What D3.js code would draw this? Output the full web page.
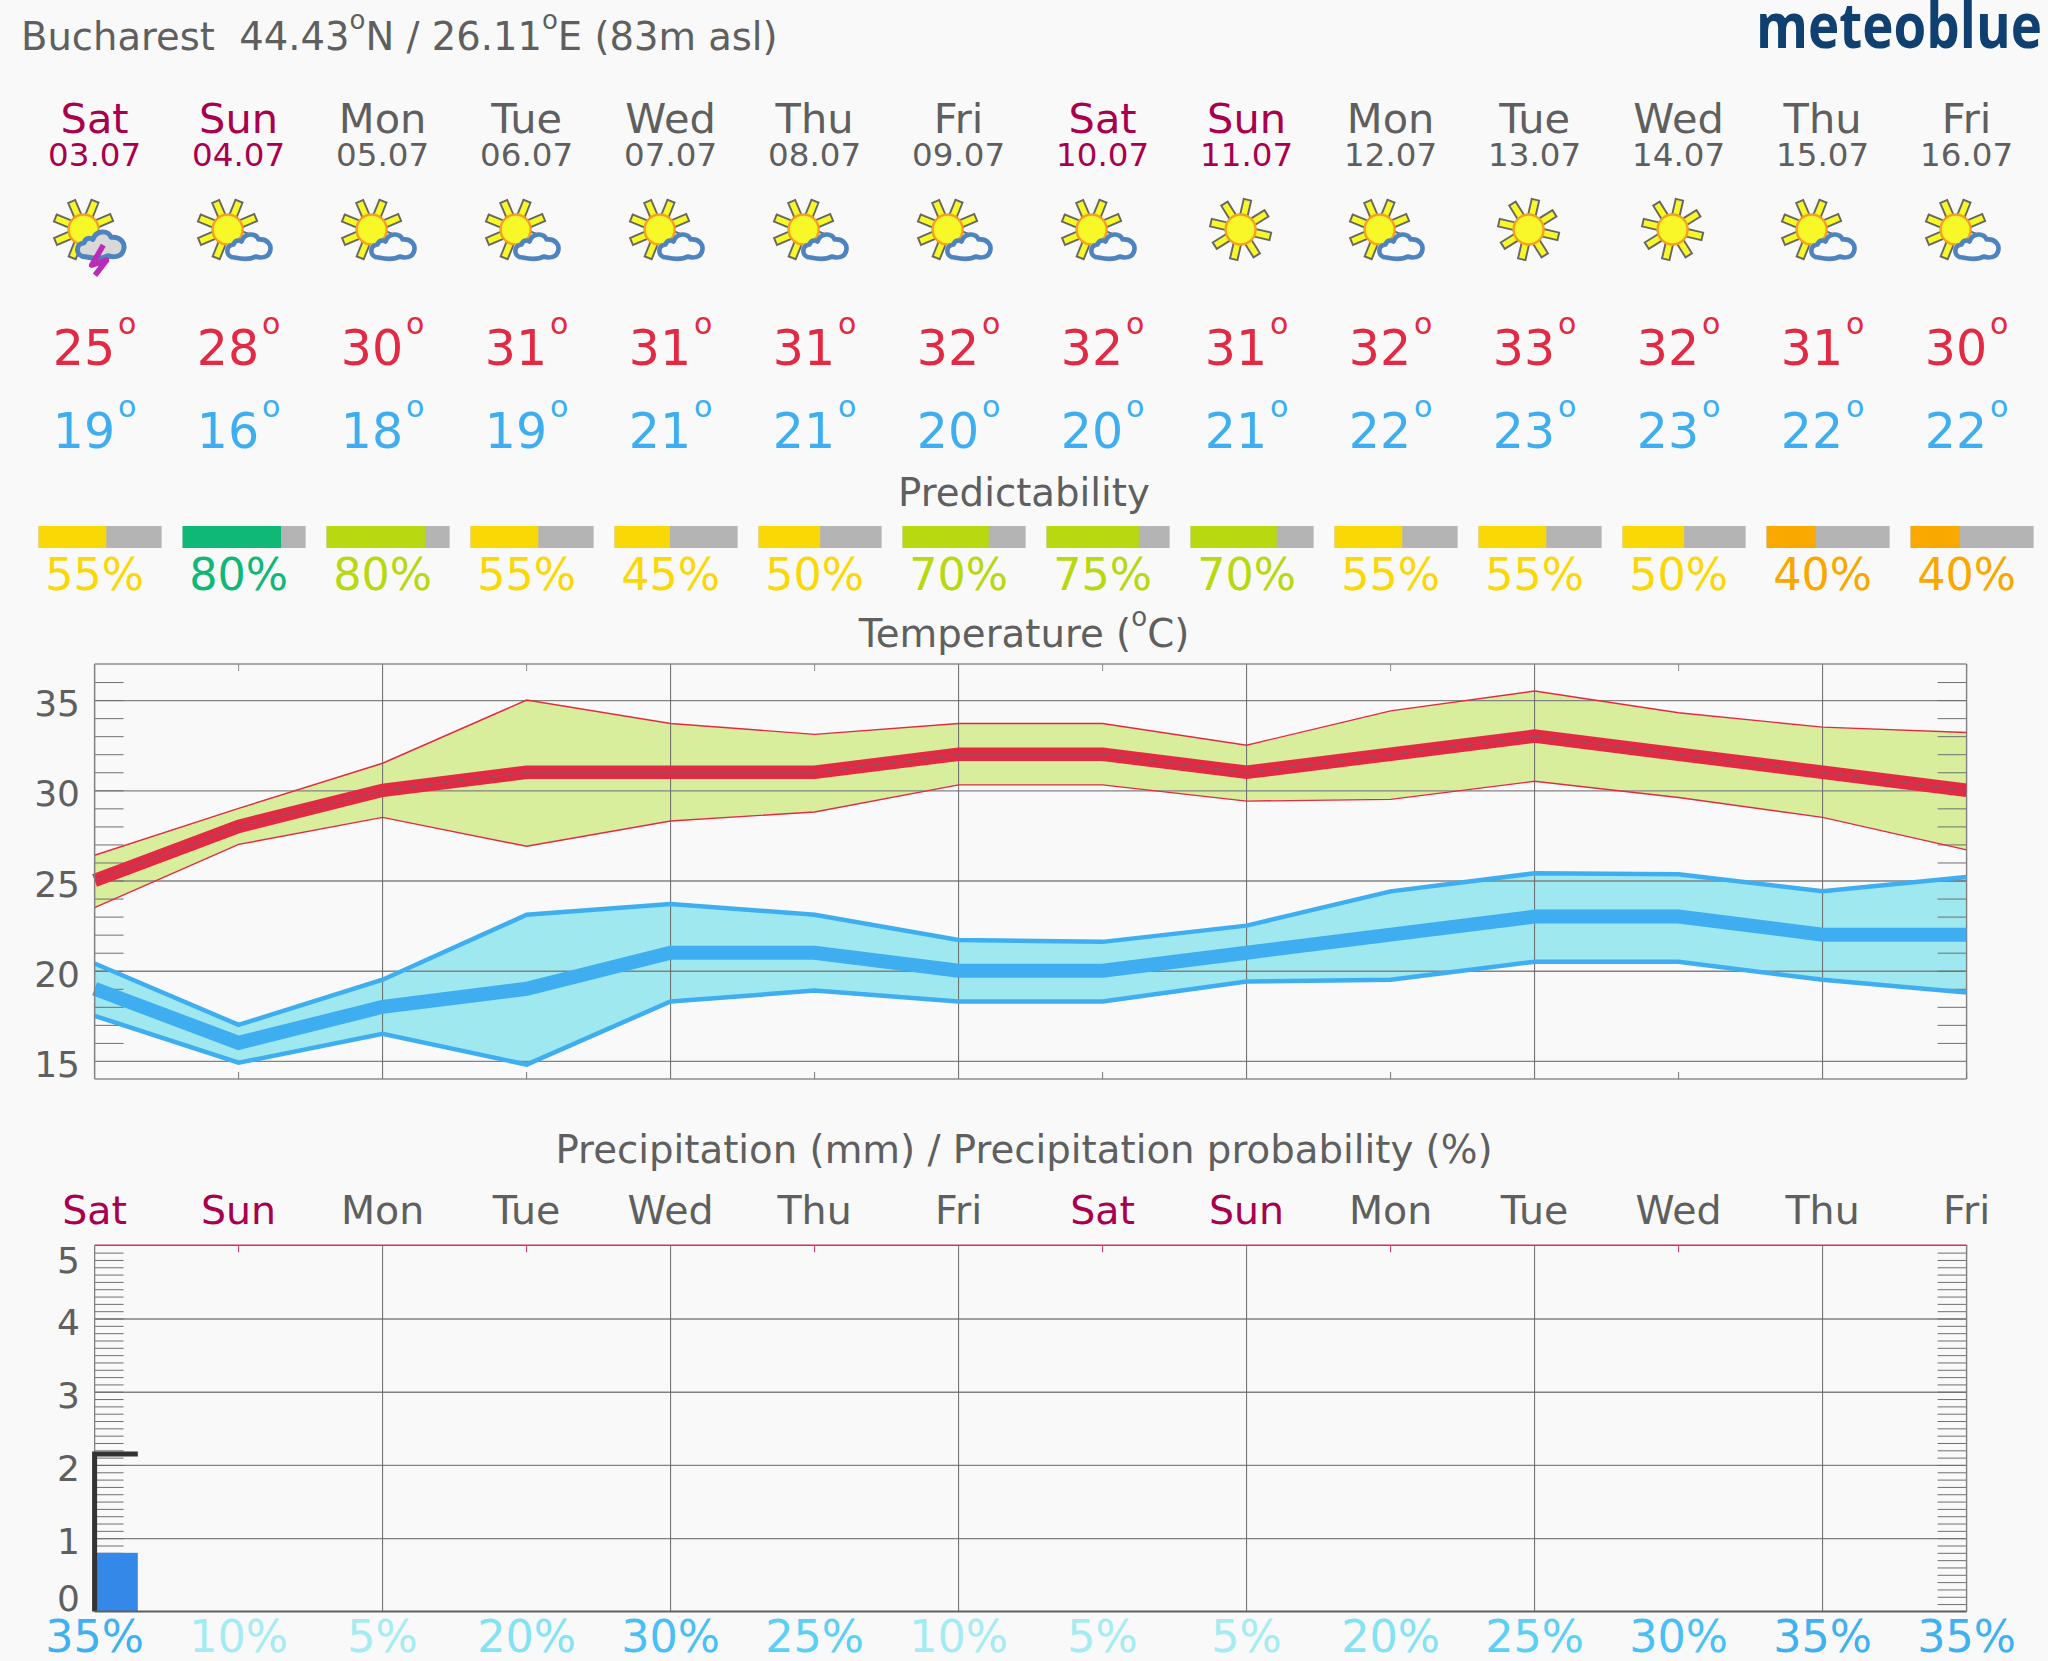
<!DOCTYPE html>
<html>
<head>
<meta charset="utf-8">
<title>meteoblue Bucharest</title>
<script src="https://cdnjs.cloudflare.com/ajax/libs/d3/7.8.5/d3.min.js"></script>
<style>
  html, body { margin: 0; padding: 0; background: #f9f9f9; }
  svg { display: block; }
  text { font-family: "DejaVu Sans", sans-serif; white-space: pre; }
</style>
</head>
<body>
<div id="chart"></div>
<script>
const days = ['Sat','Sun','Mon','Tue','Wed','Thu','Fri','Sat','Sun','Mon','Tue','Wed','Thu','Fri'];
const dates = ['03.07','04.07','05.07','06.07','07.07','08.07','09.07','10.07','11.07','12.07','13.07','14.07','15.07','16.07'];
const weekend = [1,1,0,0,0,0,0,1,1,0,0,0,0,0];
const icons = ['storm','pc','pc','pc','pc','pc','pc','pc','sun','pc','sun','sun','pc','pc'];

const tempMax = [25,28,30,31,31,31,32,32,31,32,33,32,31,30];
const tempMin = [19,16,18,19,21,21,20,20,21,22,23,23,22,22];
const maxUpper = [26.4,29,31.5,35,33.7,33.1,33.7,33.7,32.5,34.4,35.5,34.3,33.5,33.2];
const maxLower = [23.5,27,28.5,26.9,28.3,28.8,30.3,30.3,29.4,29.5,30.5,29.6,28.5,26.7];
const minUpper = [20.4,17,19.5,23.1,23.7,23.1,21.7,21.6,22.5,24.4,25.4,25.35,24.4,25.2];
const minLower = [17.5,14.9,16.5,14.8,18.3,18.9,18.3,18.3,19.4,19.5,20.5,20.5,19.5,18.8];

const predictability = [55,80,80,55,45,50,70,75,70,55,55,50,40,40];
const predictColors = ['#f9d806','#10b878','#b8d810','#f9d806','#f9d806','#f9d806','#b8d810','#b8d810','#b8d810','#f9d806','#f9d806','#f9d806','#f9a800','#f9a800'];

const precip = [0.8,0,0,0,0,0,0,0,0,0,0,0,0,0];
const precipHigh = [2.15,0,0,0,0,0,0,0,0,0,0,0,0,0];
const precipProb = [35,10,5,20,30,25,10,5,5,20,25,30,35,35];
const probColors = {5:'#a5ecf2',10:'#a5ecf2',20:'#84e3f2',25:'#5ccff5',30:'#48c0f5',35:'#3fb0f0'};

const tempTicks = [15,20,25,30,35];
const tempMinor = d3.range(16,37);
const precipTicks = [0,1,2,3,4,5];
const precipMinor = d3.range(1,50).map(d => d / 10);

const gray = '#5f5f5f';
const crimson = '#a8004f';
const red = '#e22a44';
const blue = '#3eaef0';

const svg = d3.select('#chart').append('svg')
  .attr('width', 2048).attr('height', 1661)
  .attr('viewBox', '0 0 2048 1661');

const idx = days.map((d, i) => i);
const x = d3.scalePoint().domain(idx).range([94.6, 1966.6]);
const yT = d3.scaleLinear().domain([14, 37]).range([1079, 664]);
const yP = d3.scaleLinear().domain([0, 5]).range([1611.4, 1245.3]);
const dayColor = i => weekend[i] ? crimson : gray;

// cabecera
const head = svg.append('text').attr('x', 21).attr('y', 50).attr('font-size', 38.5).attr('fill', gray);
head.append('tspan').text('Bucharest  44.43');
head.append('tspan').attr('font-size', 26).attr('dy', -21).text('o');
head.append('tspan').attr('dy', 21).text('N / 26.11');
head.append('tspan').attr('font-size', 26).attr('dy', -21).text('o');
head.append('tspan').attr('dy', 21).text('E (83m asl)');

svg.append('text').attr('x', 1756).attr('y', 47.7)
  .attr('font-size', 62).attr('fill', '#0f4070')
  .attr('textLength', 286).attr('lengthAdjust', 'spacingAndGlyphs')
  .style('font-family', '"Open Sans"').style('font-weight', 700)
  .text('meteoblue');

// dias
svg.selectAll('text.day').data(idx).enter().append('text')
  .attr('class', 'day').attr('x', x).attr('y', 132.7)
  .attr('text-anchor', 'middle').attr('font-size', 41.5)
  .attr('fill', dayColor).text(i => days[i]);

svg.selectAll('text.date').data(idx).enter().append('text')
  .attr('class', 'date').attr('x', x).attr('y', 165.7)
  .attr('text-anchor', 'middle').attr('font-size', 32.5)
  .attr('fill', dayColor).text(i => dates[i]);

// iconos
const cloudPath = 'M-4,28C-13,28-14,16-5,15C-4,11 0,10 3,12C6,3 17,3 20,10C29,9 34,16 31,23C29,28 22,29 17,27C12,30 5,30-4,28Z';
function drawSun(g, cx, offset) {
  const sun = g.append('g').attr('transform', `translate(${cx},0)`);
  d3.range(8).forEach(k => {
    sun.append('rect').attr('x', 14).attr('y', -3.8).attr('width', 16.5).attr('height', 7.6)
      .attr('fill', '#f8f828').attr('stroke', '#666').attr('stroke-width', 1.9)
      .attr('transform', `rotate(${offset + k * 45})`);
  });
  sun.append('circle').attr('r', 15).attr('fill', '#f8f828')
    .attr('stroke', '#f5a020').attr('stroke-width', 2.4);
}
svg.selectAll('g.icon').data(idx).enter().append('g')
  .attr('class', 'icon')
  .attr('transform', i => `translate(${x(i)},229.5)`)
  .each(function(i) {
    const g = d3.select(this);
    if (icons[i] === 'sun') {
      drawSun(g, -6, 13);
    } else {
      drawSun(g, -11, 22);
      const cloud = g.append('path').attr('d', cloudPath).attr('stroke', '#4d84c0')
        .attr('stroke-width', 4.6).attr('stroke-linejoin', 'round');
      if (icons[i] === 'storm') {
        cloud.attr('fill', '#d8d8d8').attr('transform', 'translate(-5,-3) scale(1.08)');
        g.append('path').attr('d', d3.line()([[8.7,15.7],[-2.9,35.7],[12,30.7],[0.4,45.7]]))
          .attr('fill', 'none').attr('stroke', '#b82cb8').attr('stroke-width', 5.5)
          .attr('stroke-linejoin', 'round');
      } else {
        cloud.attr('fill', '#f9f9f9');
      }
    }
  });

// temperaturas en texto
function degLabels(values, cls, baseline, color) {
  svg.selectAll('text.' + cls).data(values).enter().append('text')
    .attr('class', cls).attr('x', (d, i) => x(i)).attr('y', baseline)
    .attr('text-anchor', 'middle').attr('font-size', 49).attr('fill', color)
    .each(function(d) {
      const t = d3.select(this);
      t.append('tspan').text(d);
      t.append('tspan').attr('dx', 3).attr('dy', -31).attr('font-size', 30).text('o');
    });
}
degLabels(tempMax, 'tmax', 365, red);
degLabels(tempMin, 'tmin', 448, blue);

// predictability
function title(txt, y) {
  return svg.append('text').attr('x', 1024).attr('y', y)
    .attr('text-anchor', 'middle').attr('font-size', 38.7).attr('fill', gray).text(txt);
}
title('Predictability', 506);

const barW = d3.scaleLinear().domain([0, 100]).range([0, 123]);
svg.selectAll('rect.predbg').data(idx).enter().append('rect')
  .attr('class', 'predbg').attr('x', i => x(i) - 56).attr('y', 526)
  .attr('width', barW(100)).attr('height', 22).attr('fill', '#b4b4b4');
svg.selectAll('rect.pred').data(idx).enter().append('rect')
  .attr('class', 'pred').attr('x', i => x(i) - 56).attr('y', 526)
  .attr('width', i => barW(predictability[i])).attr('height', 22)
  .attr('fill', i => predictColors[i]);
svg.selectAll('text.pred').data(idx).enter().append('text')
  .attr('class', 'pred').attr('x', x).attr('y', 589.6)
  .attr('text-anchor', 'middle').attr('font-size', 44.5)
  .attr('fill', i => predictColors[i]).text(i => predictability[i] + '%');

// temperatura
const tt = title('Temperature (', 647);
tt.append('tspan').attr('font-size', 26).attr('dy', -21).text('o');
tt.append('tspan').attr('dy', 21).text('C)');

const left = x(0), right = x(13);
const tempG = svg.append('g');

const band = (upper, lower) => d3.area()
  .x((d, i) => x(i)).y0((d, i) => yT(lower[i])).y1(d => yT(d))(upper);
const curve = values => d3.line().x((d, i) => x(i)).y(d => yT(d))(values);

svg.append('clipPath').attr('id', 'clipT').append('rect')
  .attr('x', left - 5).attr('y', 664).attr('width', right - left + 5).attr('height', 415);

tempG.append('path').attr('d', band(maxUpper, maxLower)).attr('fill', '#d9ee9c');
tempG.append('path').attr('d', band(minUpper, minLower)).attr('fill', '#9fe8f0');

function frame(g, y, major, minor, frameColor) {
  // lineas horizontales
  g.append('g').attr('transform', `translate(${left},0)`)
    .call(d3.axisLeft(y).tickValues(major).tickSize(-(right - left)).tickFormat(''))
    .call(a => a.select('.domain').remove())
    .call(a => a.selectAll('line').attr('stroke', '#828282').attr('stroke-width', 1.3));
  // marcas menores a los dos lados
  g.append('g').attr('transform', `translate(${left},0)`)
    .call(d3.axisLeft(y).tickValues(minor).tickSize(-29).tickFormat(''))
    .call(a => a.select('.domain').remove())
    .call(a => a.selectAll('line').attr('stroke', '#6f6f6f').attr('stroke-width', 1));
  g.append('g').attr('transform', `translate(${right},0)`)
    .call(d3.axisRight(y).tickValues(minor).tickSize(-29).tickFormat(''))
    .call(a => a.select('.domain').remove())
    .call(a => a.selectAll('line').attr('stroke', '#6f6f6f').attr('stroke-width', 1));
  // lineas verticales y marcas cortas
  const [y0, y1] = y.range();
  g.selectAll('line.vgrid').data(idx.filter(i => i % 2 === 0)).enter().append('line')
    .attr('class', 'vgrid').attr('x1', x).attr('x2', x).attr('y1', y1).attr('y2', y0)
    .attr('stroke', '#676767').attr('stroke-width', 1);
  g.selectAll('line.vtop').data(idx.filter(i => i % 2 === 1)).enter().append('line')
    .attr('class', 'vtop').attr('x1', x).attr('x2', x).attr('y1', y1).attr('y2', y1 + 7)
    .attr('stroke', frameColor).attr('stroke-width', 1);
  g.append('line').attr('x1', right).attr('x2', right).attr('y1', y1).attr('y2', y0)
    .attr('stroke', '#808080').attr('stroke-width', 1.4);
  g.append('line').attr('x1', left).attr('x2', right).attr('y1', y1).attr('y2', y1)
    .attr('stroke', frameColor).attr('stroke-width', 1.4);
}

frame(tempG, yT, tempTicks, tempMinor, '#8c8c8c');
tempG.selectAll('line.vbot').data(idx.filter(i => i % 2 === 1)).enter().append('line')
  .attr('class', 'vbot').attr('x1', x).attr('x2', x).attr('y1', 1072).attr('y2', 1079)
  .attr('stroke', '#777');
tempG.append('line').attr('x1', left).attr('x2', right).attr('y1', 1079).attr('y2', 1079)
  .attr('stroke', '#8c8c8c').attr('stroke-width', 1.4);

const lines = tempG.append('g').attr('clip-path', 'url(#clipT)').attr('fill', 'none');
lines.append('path').attr('d', curve(maxUpper)).attr('stroke', red).attr('stroke-width', 1.4);
lines.append('path').attr('d', curve(maxLower)).attr('stroke', red).attr('stroke-width', 1.4);
lines.append('path').attr('d', curve(minUpper)).attr('stroke', blue).attr('stroke-width', 4.5);
lines.append('path').attr('d', curve(minLower)).attr('stroke', blue).attr('stroke-width', 4.5);
lines.append('path').attr('d', curve(tempMax)).attr('stroke', red).attr('stroke-width', 13.5);
lines.append('path').attr('d', curve(tempMax)).attr('stroke', '#6a6a6a').attr('stroke-width', 0.8);
lines.append('path').attr('d', curve(tempMin)).attr('stroke', blue).attr('stroke-width', 14);

tempG.append('line').attr('x1', left).attr('x2', left).attr('y1', 664).attr('y2', 1079)
  .attr('stroke', '#808080').attr('stroke-width', 1.4);

tempG.selectAll('text.tlabel').data(tempTicks).enter().append('text')
  .attr('class', 'tlabel').attr('x', 80).attr('y', d => yT(d) + 16)
  .attr('text-anchor', 'end').attr('font-size', 36).attr('fill', gray).text(d => d);

// precipitacion
title('Precipitation (mm) / Precipitation probability (%)', 1162.5);

svg.selectAll('text.day2').data(idx).enter().append('text')
  .attr('class', 'day2').attr('x', x).attr('y', 1224)
  .attr('text-anchor', 'middle').attr('font-size', 39.5)
  .attr('fill', dayColor).text(i => days[i]);

const precG = svg.append('g');
frame(precG, yP, precipTicks.slice(1, 5), precipMinor, '#cf2f6f');
precG.append('line').attr('x1', left).attr('x2', left).attr('y1', 1245.3).attr('y2', 1611.4)
  .attr('stroke', '#808080').attr('stroke-width', 1.2);

const stepW = x.step() * 0.3;
const barL = left + 2;
precG.selectAll('rect.rain').data(idx.filter(i => precip[i] > 0)).enter().append('rect')
  .attr('class', 'rain').attr('x', barL).attr('width', stepW - 2)
  .attr('y', i => yP(precip[i])).attr('height', i => yP(0) - yP(precip[i]))
  .attr('fill', '#3388e8');
precG.selectAll('path.rainHigh').data(idx.filter(i => precipHigh[i] > 0)).enter().append('path')
  .attr('class', 'rainHigh').attr('fill', 'none').attr('stroke', '#333').attr('stroke-width', 5)
  .attr('d', i => d3.line()([[x(i), yP(0)], [x(i), yP(precipHigh[i])], [x(i) + stepW, yP(precipHigh[i])]]));
precG.append('line').attr('x1', left).attr('x2', right).attr('y1', yP(0)).attr('y2', yP(0))
  .attr('stroke', '#5f5f5f').attr('stroke-width', 2);

precG.selectAll('text.plabel').data(precipTicks).enter().append('text')
  .attr('class', 'plabel').attr('x', 80)
  .attr('y', d => Math.min(Math.max(yP(d) + 16, 1273), 1610.7))
  .attr('text-anchor', 'end').attr('font-size', 36).attr('fill', gray).text(d => d);

svg.selectAll('text.prob').data(idx).enter().append('text')
  .attr('class', 'prob').attr('x', x).attr('y', 1652)
  .attr('text-anchor', 'middle').attr('font-size', 44.5)
  .attr('fill', i => probColors[precipProb[i]]).text(i => precipProb[i] + '%');
</script>
</body>
</html>
